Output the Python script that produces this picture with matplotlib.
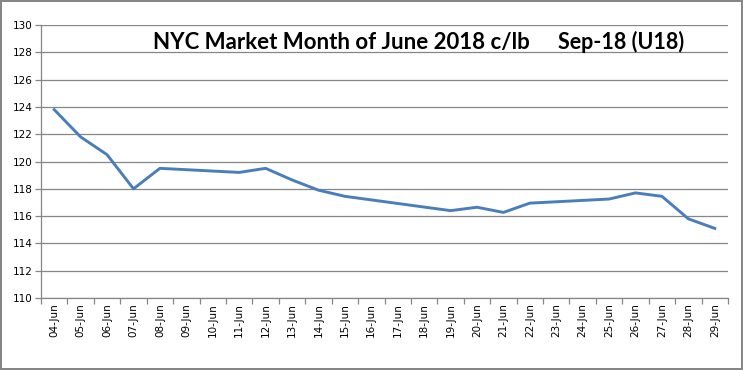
import matplotlib
matplotlib.use("Agg")
from matplotlib import pyplot
import numpy

# trading days in June 2018 (18-Jun has no point on the chart)
days = [4, 5, 6, 7, 8, 11, 12, 13, 14, 15, 19, 20, 21, 22, 25, 26, 27, 28, 29]
prices = [123.8, 121.8, 120.5, 118.0, 119.5, 119.2, 119.5, 118.65, 117.9, 117.45,
          116.4, 116.65, 116.27, 116.95, 117.25, 117.7, 117.45, 115.8, 115.1]
label_days = list(range(4, 30))
tick_labels = [f"{d:02d}-Jun" for d in label_days]
y_ticks = list(range(110, 131, 2))

title_left = "NYC Market Month of June 2018 c/lb"
title_right = "Sep-18 (U18)"

grey = "#868686"

fig = pyplot.figure(figsize=(7.43, 3.70), dpi=100, edgecolor=grey, linewidth=1.5)
ax = fig.add_axes([0.0552, 0.1946, 0.9246, 0.7378])

ax.plot(days, prices, color="#4A7EBB", linewidth=2.1, solid_joinstyle="round")

ax.set_ylim(110, 130)
ax.set_yticks(y_ticks)
ax.set_xlim(label_days[0] - 0.5, label_days[-1] + 0.5)
ax.set_xticks(label_days)
ax.set_xticklabels(tick_labels, rotation=90, fontsize=7.5, color="#000000")
ax.set_xticks(numpy.arange(label_days[0] - 0.5, label_days[-1] + 1, 1), minor=True)

ax.grid(axis="y", color=grey, linewidth=0.9)
ax.set_axisbelow(True)
for side in ["top", "right"]:
    ax.spines[side].set_visible(False)
for side in ["left", "bottom"]:
    ax.spines[side].set_color(grey)
    ax.spines[side].set_linewidth(0.9)

ax.tick_params(axis="x", which="major", length=0, pad=4)
ax.tick_params(axis="x", which="minor", length=4, color=grey, width=0.9)
ax.tick_params(axis="y", length=4, color=grey, width=0.9, labelsize=7.5, pad=2)

ax.text(0.163, 0.912, title_left, transform=ax.transAxes, fontsize=16,
        fontweight="bold", family="Lato", ha="left", va="baseline")
ax.text(0.753, 0.912, title_right, transform=ax.transAxes, fontsize=15.5,
        fontweight="bold", family="Lato", ha="left", va="baseline")

fig.savefig("out.png", dpi=100)
